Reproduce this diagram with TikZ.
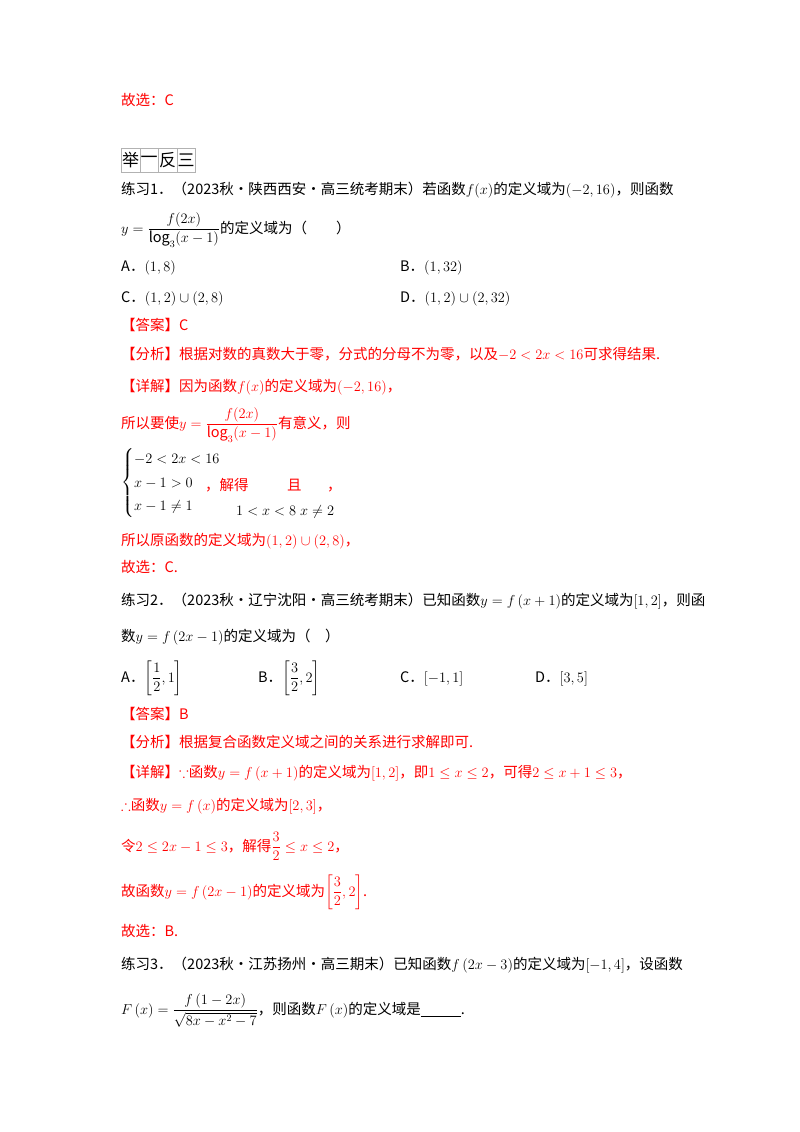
\documentclass[tikz,border=0pt]{standalone}
\usepackage{amsmath,amssymb}
\usepackage{fontspec}
\setmainfont{Noto Sans CJK SC}
\definecolor{ansred}{RGB}{255,0,0}
\begin{document}
\begin{tikzpicture}[x=1pt,y=-1pt,
  txt/.style={anchor=base west,inner sep=0pt,font=\fontsize{14.5}{17}\selectfont},
  red/.style={txt,text=ansred},
  cell/.style={draw=gray!60,line width=0.6pt,minimum width=18.5pt,minimum height=24pt,inner sep=0pt,font=\fontsize{17}{18}\selectfont,anchor=north west}]
\useasboundingbox (0,0) rectangle (800,1132);
\node[red] (g1) at (121,105) {故选：C};
\node[cell] (c1) at (121,148) {举};
\node[cell] (c2) at (139.5,148) {一};
\node[cell] (c3) at (158,148) {反};
\node[cell] (c4) at (176.5,148) {三};
\node[txt] (p1) at (121,194) {练习1．（2023秋·陕西西安·高三统考期末）若函数$f(x)$的定义域为$(-2,16)$，则函数};
\node[txt] (p1b) at (121,233) {$y=\dfrac{f(2x)}{\log_3(x-1)}$的定义域为（\qquad）};
\node[txt] (a1) at (121,271) {A．$(1,8)$};
\node[txt] (b1) at (400,271) {B．$(1,32)$};
\node[txt] (cc1) at (121,302) {C．$(1,2)\cup(2,8)$};
\node[txt] (d1) at (400,302) {D．$(1,2)\cup(2,32)$};
\node[red] (ans1) at (121,330) {【答案】C};
\node[red] (an1) at (121,359) {【分析】根据对数的真数大于零，分式的分母不为零，以及$-2<2x<16$可求得结果.};
\node[red] (de1) at (121,391) {【详解】因为函数$f(x)$的定义域为$(-2,16)$，};
\node[red] (de1b) at (121,428) {所以要使$y=\dfrac{f(2x)}{\log_3(x-1)}$有意义，则};
\node[txt,anchor=west] (sys) at (121,483) {$\begin{cases}-2<2x<16\\[3pt] x-1>0\\[3pt] x-1\neq 1\end{cases}$};
\node[red] (jd) at (205,490) {，解得};
\node[red] (qie) at (287,490) {且};
\node[red] (cm) at (327,490) {，};
\node[txt] (s1) at (236,515) {$1<x<8$};
\node[txt] (s2) at (300,515) {$x\neq 2$};
\node[red] (yuan) at (121,545) {所以原函数的定义域为$(1,2)\cup(2,8)$，};
\node[red] (g2) at (121,572) {故选：C.};
\node[txt] (p2) at (121,605) {练习2．（2023秋·辽宁沈阳·高三统考期末）已知函数$y=f\left(x+1\right)$的定义域为$[1,2]$，则函};
\node[txt] (p2b) at (121,641) {数$y=f\left(2x-1\right)$的定义域为（\quad）};
\node[txt] (a2) at (121,682) {A．$\left[\dfrac{1}{2},1\right]$};
\node[txt] (b2) at (258,682) {B．$\left[\dfrac{3}{2},2\right]$};
\node[txt] (c2t) at (400,682) {C．$[-1,1]$};
\node[txt] (d2) at (535,682) {D．$[3,5]$};
\node[red] (ans2) at (121,719) {【答案】B};
\node[red] (an2) at (121,747) {【分析】根据复合函数定义域之间的关系进行求解即可.};
\node[red] (de2) at (121,777) {【详解】$\because$函数$y=f\left(x+1\right)$的定义域为$[1,2]$，即$1\le x\le 2$，可得$2\le x+1\le 3$，};
\node[red] (th2) at (121,810) {$\therefore$函数$y=f\left(x\right)$的定义域为$\left[2,3\right]$，};
\node[red] (ling) at (121,851) {令$2\le 2x-1\le 3$，解得$\dfrac{3}{2}\le x\le 2$，};
\node[red] (gu2) at (121,896) {故函数$y=f\left(2x-1\right)$的定义域为$\left[\dfrac{3}{2},2\right]$.};
\node[red] (g3) at (121,936) {故选：B.};
\node[txt] (p3) at (121,969) {练习3．（2023秋·江苏扬州·高三期末）已知函数$f\left(2x-3\right)$的定义域为$\left[-1,4\right]$，设函数};
\node[txt] (p3b) at (121,1014) {$F\left(x\right)=\dfrac{f\left(1-2x\right)}{\sqrt{8x-x^2-7}}$，则函数$F\left(x\right)$的定义域是\underline{\hspace{40pt}}.};
\end{tikzpicture}
\end{document}
